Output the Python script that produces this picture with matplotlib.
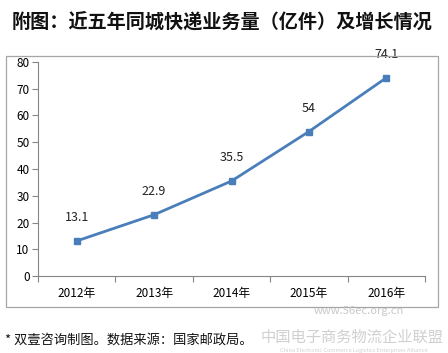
import matplotlib
matplotlib.use('Agg')
import matplotlib.pyplot as plt
from matplotlib.patches import Rectangle

plt.rcParams['font.family'] = ['Noto Sans CJK SC', 'DejaVu Sans']

years = ['2012年', '2013年', '2014年', '2015年', '2016年']
volume = [13.1, 22.9, 35.5, 54, 74.1]
value_labels = ['13.1', '22.9', '35.5', '54', '74.1']

fig = plt.figure(figsize=(4.48, 3.53), dpi=100)
fig.patch.set_facecolor('white')

# outer chart frame
fig.patches.append(Rectangle((0.0134, 0.1303), 0.9643, 0.7111, transform=fig.transFigure,
                             fill=False, edgecolor='#a6a6a6', linewidth=0.9))

ax = fig.add_axes([0.0848, 0.2181, 0.8639, 0.6063])
x = list(range(len(years)))
ax.plot(x, volume, color='#4a7ebb', linewidth=2, marker='s', markersize=5,
        markerfacecolor='#4a7ebb', markeredgecolor='#4a7ebb')
for xi, v, lab in zip(x, volume, value_labels):
    ax.annotate(lab, (xi, v), xytext=(0, 12), textcoords='offset points',
                ha='center', va='bottom', fontsize=9, color='#222222')

ax.set_xlim(-0.5, 4.5)
ax.set_ylim(0, 80)
ax.set_yticks(range(0, 81, 10))
ax.set_xticks([i - 0.5 for i in range(6)], minor=False)
ax.set_xticklabels([])
ax.set_xticks(x, minor=True)
ax.set_xticklabels(years, minor=True, fontsize=8.5)
ax.tick_params(axis='x', which='minor', length=0, pad=8)
ax.tick_params(axis='x', which='major', length=4, color='#868686', direction='out')
ax.tick_params(axis='y', length=4, color='#868686', labelsize=8.5, pad=2)
for s in ['top', 'right']:
    ax.spines[s].set_visible(False)
for s in ['left', 'bottom']:
    ax.spines[s].set_color('#868686')

fig.text(0.025, 0.937, '附图：近五年同城快递业务量（亿件）及增长情况', fontsize=13.8,
         fontweight='bold', ha='left', va='center', color='#111111')
fig.text(0.012, 0.037, '* 双壹咨询制图。数据来源：国家邮政局。', fontsize=9.5,
         ha='left', va='center', color='#111111')

# faint watermark
fig.text(0.80, 0.12, 'www.56ec.org.cn', fontsize=8, color='#c8c8c8', ha='center', va='center')
fig.text(0.785, 0.045, '中国电子商务物流企业联盟', fontsize=11, color='#d0d0d0', ha='center', va='center')
fig.text(0.79, 0.008, 'China Electronic Commerce Logistics Enterprises Alliance', fontsize=4,
         color='#d0d0d0', ha='center', va='center')

fig.savefig('out.png', dpi=100)
